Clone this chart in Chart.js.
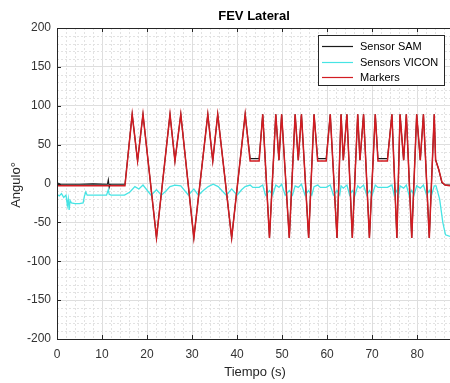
<!DOCTYPE html>
<html>
<head>
<meta charset="utf-8">
<script src="https://cdn.jsdelivr.net/npm/chart.js@4.4.0/dist/chart.umd.min.js"></script>
<style>
  html, body { margin: 0; padding: 0; background: #fff; }
  #wrap { position: relative; width: 450px; height: 383px; }
</style>
</head>
<body>
<div id="wrap"><canvas id="chart"></canvas></div>
<script>
// values (time in s, angle in degrees)
const xTicks = [0, 10, 20, 30, 40, 50, 60, 70, 80];
const yTicks = [-200, -150, -100, -50, 0, 50, 100, 150, 200];

const markersTime = [0, 15.1, 16.7, 17.9, 19.1, 22.1, 25.1, 26.2, 27.5, 30.4, 33.5, 34.6, 35.7, 38.8,
  41.8, 42.9, 44.9, 45.7, 47.2, 48.6, 49.3, 49.9, 51.6, 52.9, 53.6, 54.3, 55.9, 57.1, 57.9, 59.8,
  60.7, 62.2, 63.1, 63.6, 64.4, 65.6, 66.8, 67.3, 68.1, 69.4, 70.7, 71.3, 73.4, 74.4, 75.5, 76.2,
  77.0, 77.6, 78.8, 79.9, 80.7, 81.4, 82.7, 83.8, 84.1, 84.8, 85.5, 86.2, 87.3];
const markersAngle = [-3, -3, 89, 29, 89, -70, 89, 29, 89, -70, 89, 29, 89, -70,
  89, 29, 29, 89, -70, 89, 30, 89, -70, 89, 30, 89, -70, 89, 29, 29,
  89, -70, 89, 30, 89, -70, 89, 30, 89, -70, 89, 29, 29, 89, -70, 89,
  30, 89, -70, 89, 30, 89, -70, 89, 30, 18, 2, -2, -3];

const samTime = [0, 0.8, 5, 8, 11.2, 11.4, 11.6, 11.8, 15.1, 16.7, 17.9, 19.1, 22.1, 25.1, 26.2, 27.5,
  30.4, 33.5, 34.6, 35.7, 38.8, 41.8, 42.9, 44.9, 45.7, 47.2, 48.6, 49.3, 49.9, 51.6, 52.9, 53.6,
  54.3, 55.9, 57.1, 57.9, 59.8, 60.7, 62.2, 63.1, 63.6, 64.4, 65.6, 66.8, 67.3, 68.1, 69.4, 70.7,
  71.3, 73.4, 74.4, 75.5, 76.2, 77.0, 77.6, 78.8, 79.9, 80.7, 81.4, 82.7, 83.8, 84.1, 84.8, 85.5,
  86.2, 87.3];
const samAngle = [1, -1, -1, -0.5, -1, 5, -5, -1, -1, 89, 29, 89, -70, 89, 29, 89,
  -70, 89, 29, 89, -70, 89, 32, 32, 89, -70, 89, 30, 89, -70, 89, 30,
  89, -70, 89, 32, 32, 89, -70, 89, 30, 89, -70, 89, 30, 89, -70, 89,
  32, 32, 89, -70, 89, 30, 89, -70, 89, 30, 89, -70, 89, 31, 18, 1,
  -2, -2];

const viconTime = [0, 0.5, 1, 1.5, 2, 2.3, 2.5, 2.7, 2.9, 3.2, 4, 5, 5.8, 6.1, 6.4, 6.7, 7.5, 9, 11,
  11.4, 11.6, 12, 15, 16.2, 17.3, 18.2, 19.1, 20.9, 22.1, 23.2, 24.3, 25.1, 26.2, 27.5, 29.2, 30.4,
  31.4, 32.5, 33.6, 34.7, 35.8, 37.6, 38.8, 40, 41, 41.8, 42.9, 43.5, 44.9, 45.7, 46.3, 47.2, 47.9,
  48.6, 49.3, 49.9, 50.7, 51.6, 52.3, 52.9, 53.6, 54.3, 55.1, 55.9, 56.6, 57.1, 57.9, 58.5, 59.8,
  60.7, 61.4, 62.2, 62.8, 63.1, 63.6, 64.4, 65.0, 65.6, 66.2, 66.8, 67.3, 68.1, 68.8, 69.4, 70.0,
  70.7, 71.3, 73.4, 74.4, 74.9, 75.5, 75.9, 76.2, 77.0, 77.6, 78.2, 78.8, 79.3, 79.9, 80.7, 81.4,
  82.1, 82.7, 83.2, 83.8, 84.2, 85.0, 85.7, 86.3, 87.3];
const viconAngle = [-14, -16, -13, -18, -15, -28, -20, -34, -22, -25, -26, -26, -25, -16, -11, -15, -15, -15, -15,
  -8, -14, -15, -15, -11, -4, -7, -2, -15, -8, -15, -9, -4, -2, -3, -15, -7,
  -15, -9, -4, -1, -4, -15, -7, -15, -8, -4, -2, -5, -5, -2, -15, -9, -15,
  -2, -5, -1, -15, -9, -15, -3, -5, -1, -15, -9, -15, -4, -2, -5, -5,
  -2, -15, -9, -15, -3, -6, -2, -15, -9, -15, -3, -6, -2, -15, -9, -15,
  -2, -5, -5, -2, -15, -9, -15, -3, -6, -2, -15, -9, -15, -3, -6, -2,
  -15, -9, -15, -3, -3, -20, -50, -66, -68];

const toPoints = (t, v) => t.map((x, i) => ({ x: x, y: v[i] }));

const AXIS = '#262626';
const FONT = '"Liberation Sans", Arial, Helvetica, sans-serif';

// MATLAB style frame: minor dotted grid, inward ticks, box, labels, legend
const matlabFrame = {
  id: 'matlabFrame',
  beforeDatasetsDraw(chart) {
    const { ctx, chartArea: a, scales: { x, y } } = chart;
    ctx.save();
    ctx.strokeStyle = '#e2e2e2';
    ctx.lineWidth = 1;
    ctx.setLineDash([2, 2]);
    for (let v = 0; v <= x.max; v += 2) {
      if (v % 10 === 0) continue;
      const px = Math.round(x.getPixelForValue(v)) + 0.5;
      ctx.beginPath(); ctx.moveTo(px, a.top); ctx.lineTo(px, a.bottom); ctx.stroke();
    }
    for (let v = -200; v <= 200; v += 10) {
      if (v % 50 === 0) continue;
      const py = Math.round(y.getPixelForValue(v)) + 0.5;
      ctx.beginPath(); ctx.moveTo(a.left, py); ctx.lineTo(a.right, py); ctx.stroke();
    }
    ctx.restore();
  },
  afterDatasetsDraw(chart) {
    const { ctx, chartArea: a, scales: { x, y } } = chart;
    ctx.save();
    ctx.strokeStyle = AXIS;
    ctx.lineWidth = 1;
    // box
    ctx.beginPath();
    ctx.moveTo(a.left + 0.5, a.top + 0.5);
    ctx.lineTo(a.right, a.top + 0.5);
    ctx.moveTo(a.left + 0.5, a.top);
    ctx.lineTo(a.left + 0.5, a.bottom + 0.5);
    ctx.lineTo(a.right, a.bottom + 0.5);
    ctx.stroke();
    // inward ticks
    ctx.beginPath();
    xTicks.forEach(v => {
      const px = Math.round(x.getPixelForValue(v)) + 0.5;
      ctx.moveTo(px, a.bottom); ctx.lineTo(px, a.bottom - 4);
      ctx.moveTo(px, a.top); ctx.lineTo(px, a.top + 4);
    });
    yTicks.forEach(v => {
      const py = Math.round(y.getPixelForValue(v)) + 0.5;
      ctx.moveTo(a.left, py); ctx.lineTo(a.left + 4, py);
    });
    ctx.stroke();

    // title and axis labels
    ctx.fillStyle = '#000';
    ctx.textAlign = 'center';
    ctx.textBaseline = 'middle';
    ctx.font = 'bold 13px ' + FONT;
    ctx.fillText('FEV Lateral', 254, 16);
    ctx.fillStyle = AXIS;
    ctx.font = '13px ' + FONT;
    ctx.fillText('Tiempo (s)', 255, 372);
    ctx.save();
    ctx.translate(16, 185);
    ctx.rotate(-Math.PI / 2);
    ctx.fillText('Angulo°', 0, 0);
    ctx.restore();

    // legend box
    const lx = 318, ly = 35, lw = 126, lh = 50;
    ctx.fillStyle = '#fff';
    ctx.fillRect(lx, ly, lw, lh);
    ctx.strokeStyle = AXIS;
    ctx.strokeRect(lx + 0.5, ly + 0.5, lw, lh);
    ctx.font = '11px ' + FONT;
    ctx.textAlign = 'left';
    chart.data.datasets.forEach((ds, i) => {
      const yy = Math.round(ly + 11 + i * 15.5) + 0.5;
      ctx.strokeStyle = ds.borderColor;
      ctx.lineWidth = 1.2;
      ctx.beginPath(); ctx.moveTo(322, yy); ctx.lineTo(353, yy); ctx.stroke();
      ctx.fillStyle = '#000';
      ctx.fillText(ds.label, 360, yy);
    });
    ctx.restore();
  }
};

const data = {
  datasets: [
    { label: 'Sensor SAM', data: toPoints(samTime, samAngle), borderColor: '#1a1a1a', borderWidth: 1.1, order: 2 },
    { label: 'Sensors VICON', data: toPoints(viconTime, viconAngle), borderColor: '#46e4e4', borderWidth: 1.3, order: 1 },
    { label: 'Markers', data: toPoints(markersTime, markersAngle), borderColor: '#d21c22', borderWidth: 1.5, order: 0 }
  ]
};

const options = {
  responsive: false,
  animation: false,
  layout: { padding: { top: 28, right: 0, bottom: 0, left: 0 } },
  elements: { point: { radius: 0 }, line: { tension: 0 } },
  plugins: { legend: { display: false }, title: { display: false }, tooltip: { enabled: false } },
  scales: {
    x: {
      type: 'linear',
      min: 0,
      max: 87.3,
      afterBuildTicks: s => { s.ticks = xTicks.map(v => ({ value: v })); },
      afterFit: s => { s.height = 44; },
      ticks: { color: '#333', font: { family: FONT, size: 12 }, padding: 8, maxRotation: 0 },
      grid: { color: '#dedede', drawTicks: false },
      border: { display: false }
    },
    y: {
      type: 'linear',
      min: -200,
      max: 200,
      afterBuildTicks: s => { s.ticks = yTicks.map(v => ({ value: v })); },
      afterFit: s => { s.width = 57; },
      ticks: { color: '#333', font: { family: FONT, size: 12 }, padding: 6 },
      grid: { color: '#dedede', drawTicks: false },
      border: { display: false }
    }
  }
};

const canvas = document.getElementById('chart');
canvas.width = 450;
canvas.height = 383;
new Chart(canvas.getContext('2d'), {
  type: 'line',
  data: data,
  options: options,
  plugins: [matlabFrame]
});
</script>
</body>
</html>
